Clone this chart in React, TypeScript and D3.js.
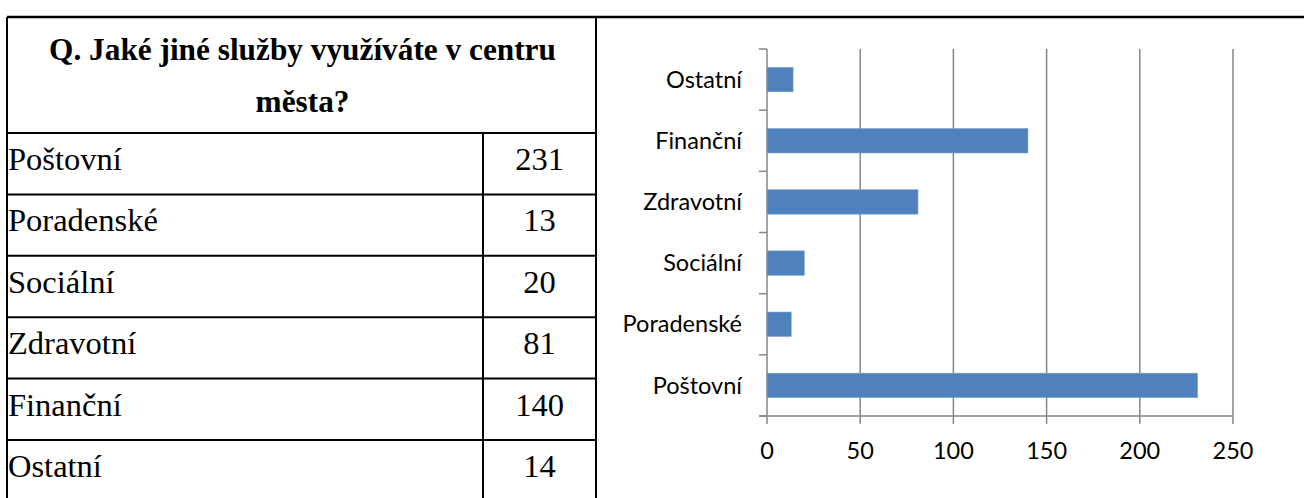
import React from 'react'
import * as d3 from 'd3'

const categories = ['Poštovní', 'Poradenské', 'Sociální', 'Zdravotní', 'Finanční', 'Ostatní']
const values = [231, 13, 20, 81, 140, 14]
const xTicks = [0, 50, 100, 150, 200, 250]
const titleLines = ['Q. Jaké jiné služby využíváte v centru', 'města?']

const W = 1304
const H = 498

const App = () => {
  // table geometry
  var left = 7
  var colSep = 483
  var tableRight = 596
  var top = 17
  var headerBottom = 133
  var rowH = 61.4

  const rowY = d3.scaleLinear().domain([0, 1]).range([headerBottom, headerBottom + rowH])

  // chart scales
  const x = d3.scaleLinear().domain([0, 250]).range([767, 1233])
  const y = d3.scaleBand()
    .domain(categories.slice().reverse())
    .range([49, 416])
    .paddingInner(0.6)
    .paddingOuter(0.3)

  const step = y.step()
  const bounds = d3.range(categories.length + 1).map(i => 49 + i * step)

  const serif = '"Liberation Serif", "Times New Roman", serif'
  const sans = 'Lato, "Open Sans", sans-serif'

  const rows = categories.map((c, i) => {
    var y0 = rowY(i)
    return (
      <g key={c}>
        <text x={left + 1} y={y0 + 37} fontFamily={serif} fontSize={32.5} fill="#000">{c}</text>
        <text x={(colSep + tableRight) / 2} y={y0 + 37} fontFamily={serif} fontSize={32.5} fill="#000" textAnchor="middle">{values[i]}</text>
        {i < categories.length - 1 &&
          <line x1={left} x2={tableRight} y1={rowY(i + 1)} y2={rowY(i + 1)} stroke="#000" strokeWidth={2}/>}
      </g>
    )
  })

  const bars = categories.map((c, i) => {
    return <rect key={c} x={x(0)} y={y(c)} width={x(values[i]) - x(0)} height={y.bandwidth()} fill="#4F81BD" stroke="#7fa3d0" strokeWidth={0.6}/>
  })

  return (
    <div style={{position: 'absolute', left: 0, top: 0}}>
      <svg width={W} height={H} style={{display: 'block', background: '#fff'}}>
        {/* table */}
        <line x1={left} x2={W} y1={top} y2={top} stroke="#000" strokeWidth={2.5}/>
        <line x1={left} x2={left} y1={top} y2={H} stroke="#000" strokeWidth={2}/>
        <line x1={tableRight} x2={tableRight} y1={top} y2={H} stroke="#000" strokeWidth={2}/>
        <line x1={left} x2={tableRight} y1={headerBottom} y2={headerBottom} stroke="#000" strokeWidth={2}/>
        <line x1={colSep} x2={colSep} y1={headerBottom} y2={H} stroke="#000" strokeWidth={2}/>
        {titleLines.map((t, i) =>
          <text key={i} x={(left + tableRight) / 2 + 1} y={60 + i * 52} fontFamily={serif} fontWeight="bold" fontSize={31.3} textAnchor="middle" fill="#000">{t}</text>
        )}
        {rows}

        {/* chart */}
        <g>
          {xTicks.filter(t => t > 0).map(t =>
            <line key={t} x1={x(t)} x2={x(t)} y1={49} y2={424} stroke="#868686" strokeWidth={1.5}/>
          )}
          <line x1={x(0)} x2={x(0)} y1={49} y2={424} stroke="#868686" strokeWidth={1.5}/>
          <line x1={759} x2={x(250)} y1={416} y2={416} stroke="#868686" strokeWidth={1.5}/>
          {bounds.map((b, i) =>
            <line key={i} x1={759} x2={x(0)} y1={b} y2={b} stroke="#868686" strokeWidth={1.5}/>
          )}
          {bars}
          {categories.map(c =>
            <text key={c} x={742} y={y(c) + y.bandwidth() / 2} dy="0.35em" textAnchor="end" fontFamily={sans} fontSize={23.5} fill="#000">{c}</text>
          )}
          {xTicks.map(t =>
            <text key={t} x={x(t)} y={451} dy="0.35em" textAnchor="middle" fontFamily={sans} fontSize={23.5} fill="#000">{t}</text>
          )}
        </g>
      </svg>
    </div>
  )
}

export default App
